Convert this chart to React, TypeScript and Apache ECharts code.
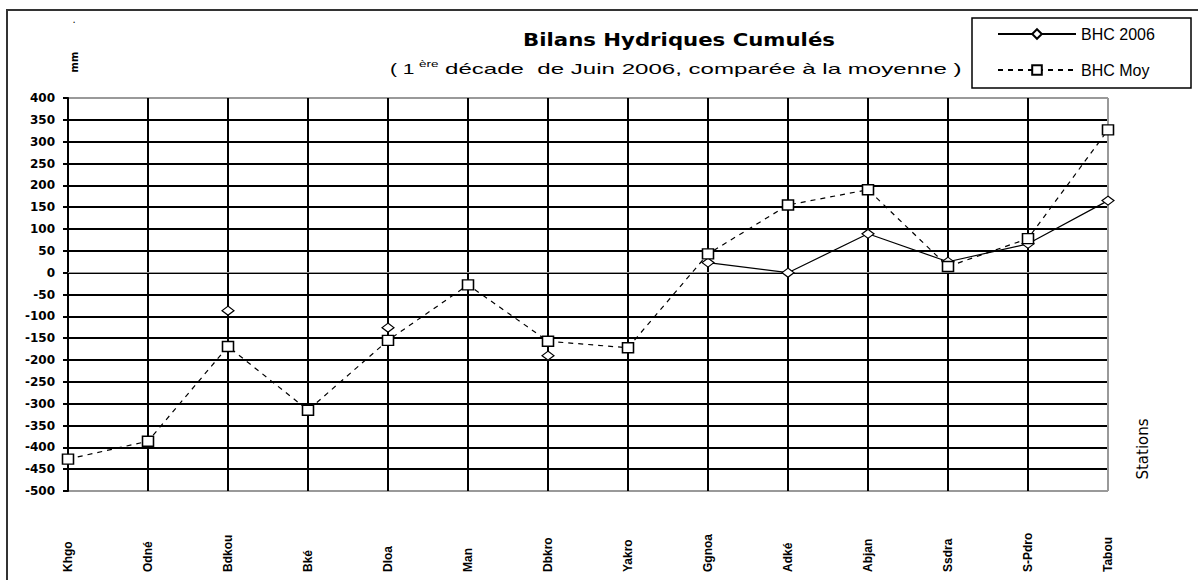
import React, { useEffect, useRef } from "react";
import * as echarts from "echarts";

const stations = ["Khgo", "Odné", "Bdkou", "Bké", "Dloa", "Man", "Dbkro", "Yakro", "Ggnoa", "Adké", "Abjan", "Ssdra", "S-Pdro", "Tabou"];
const bhc2006: (number | null)[] = [null, null, -87, null, -126, null, -190, null, 23, 0, 89, 25, 66, 165];
const bhcMoy: number[] = [-427, -386, -169, -315, -155, -28, -157, -172, 43, 155, 190, 14, 78, 327];
const yMin = -500;
const yMax = 400;
const yStep = 50;

export default function App() {
  const ref = useRef<HTMLDivElement>(null);
  useEffect(() => {
    if (!ref.current) return;
    const chart = echarts.init(ref.current, undefined, { renderer: "svg" });
    const nY = (yMax - yMin) / yStep + 1;
    const yColors = Array.from({ length: nY }, (_, i) => (i === 0 || i === nY - 1 ? "#999" : "#000"));
    const xColors = stations.map((_, i) => (i === stations.length - 1 ? "#999" : "#000"));
    chart.setOption({
      animation: false,
      backgroundColor: "#fff",
      textStyle: { fontFamily: "DejaVu Sans" },
      grid: { left: 68, right: 90, top: 98, bottom: 89, show: true, borderColor: "#999", borderWidth: 1 },
      legend: {
        orient: "vertical",
        left: 992,
        top: 21,
        itemWidth: 78,
        itemHeight: 12,
        itemGap: 20,
        selectedMode: false,
        textStyle: { fontSize: 16, color: "#000", fontFamily: "Liberation Sans", lineHeight: 14 },
        data: ["BHC 2006", "BHC Moy"],
      },
      xAxis: {
        type: "category",
        data: stations,
        boundaryGap: false,
        axisLine: { show: true, lineStyle: { color: "#999", width: 1 } },
        axisTick: { show: false },
        splitLine: { show: true, interval: 0, lineStyle: { color: xColors, width: 2 } },
        axisLabel: {
          interval: 0,
          rotate: 90,
          margin: 81,
          align: "left",
          verticalAlign: "middle",
          fontSize: 12,
          fontWeight: "bold",
          fontFamily: "Liberation Sans",
          color: "#000",
        },
      },
      yAxis: {
        type: "value",
        min: yMin,
        max: yMax,
        interval: yStep,
        axisLine: { show: true, lineStyle: { color: "#000", width: 2 } },
        axisTick: { show: true, length: 5, lineStyle: { color: "#000", width: 2 } },
        splitLine: { show: true, lineStyle: { color: yColors, width: 2 } },
        axisLabel: { fontSize: 12, fontWeight: "bold", fontFamily: "DejaVu Sans", color: "#000", margin: 13 },
      },
      graphic: [
        { type: "rect", shape: { x: 7, y: 10, width: 1200, height: 600 }, style: { fill: "none", stroke: "#333", lineWidth: 2 }, silent: true },
        { type: "rect", shape: { x: 972, y: 18, width: 219, height: 70 }, style: { fill: "none", stroke: "#000", lineWidth: 1.5 }, silent: true, z: 10 },
        { type: "text", x: 679, y: 40, scaleX: 1.25, style: { text: "Bilans Hydriques Cumulés", fontSize: 17, fontWeight: "bold", fontFamily: "DejaVu Sans", fill: "#000", align: "center", verticalAlign: "middle" } },
        { type: "text", x: 390, y: 69, scaleX: 1.5, style: { text: "( 1", fontSize: 14, fontFamily: "Liberation Sans", fill: "#000", align: "left", verticalAlign: "middle" } },
        { type: "text", x: 419, y: 64, scaleX: 1.5, style: { text: "ère", fontSize: 9, fontFamily: "Liberation Sans", fill: "#000", align: "left", verticalAlign: "middle" } },
        { type: "text", x: 445, y: 69, scaleX: 1.72, style: { text: "décade  de Juin 2006, comparée à la moyenne )", fontSize: 14, fontFamily: "Liberation Sans", fill: "#000", align: "left", verticalAlign: "middle" } },
        { type: "text", x: 74, y: 62, rotation: Math.PI / 2, style: { text: "mm", fontSize: 10, fontWeight: "bold", fontFamily: "DejaVu Sans", fill: "#000", align: "center", verticalAlign: "middle" } },
        { type: "text", x: 74, y: 19, style: { text: ".", fontSize: 10, fontFamily: "DejaVu Sans", fill: "#000", align: "center", verticalAlign: "middle" } },
        { type: "text", x: 1143, y: 449, rotation: Math.PI / 2, style: { text: "Stations", fontSize: 15, fontFamily: "DejaVu Sans", fill: "#000", align: "center", verticalAlign: "middle" } },
      ],
      series: [
        {
          name: "BHC 2006",
          type: "line",
          data: bhc2006,
          connectNulls: false,
          symbol: "diamond",
          symbolSize: [12, 9],
          showSymbol: true,
          lineStyle: { color: "#000", width: 1.2, type: "solid" },
          itemStyle: { color: "#fff", borderColor: "#000", borderWidth: 1.2 },
          z: 3,
        },
        {
          name: "BHC Moy",
          type: "line",
          data: bhcMoy,
          symbol: "rect",
          symbolSize: [11, 10],
          lineStyle: { color: "#000", width: 1.2, type: [5, 5] },
          itemStyle: { color: "#fff", borderColor: "#000", borderWidth: 1.5 },
          z: 4,
        },
      ],
    });
    return () => chart.dispose();
  }, []);
  return <div ref={ref} style={{ position: "fixed", left: 0, top: 0, width: 1198, height: 580 }} />;
}
